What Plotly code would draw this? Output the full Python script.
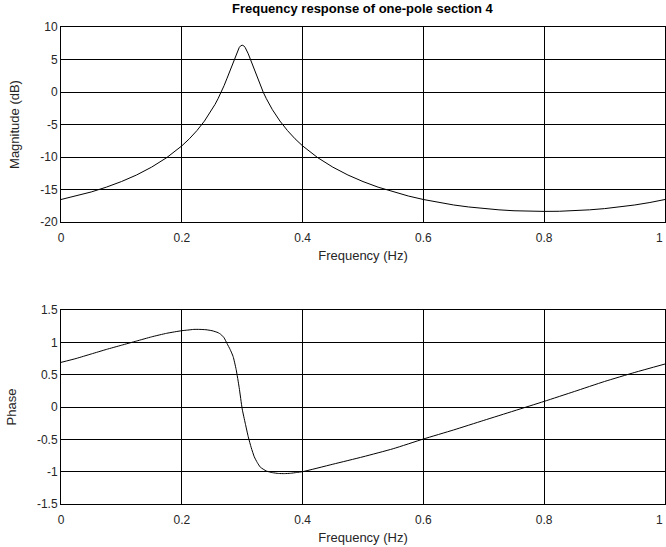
import plotly.graph_objects as go
from plotly.subplots import make_subplots

# Magnitude response (dB)
mag_freq = [0, 0.025, 0.05, 0.075, 0.1, 0.125, 0.15, 0.175, 0.2, 0.2125, 0.225, 0.2375, 0.25,
            0.255, 0.26, 0.265, 0.27, 0.275, 0.28, 0.285, 0.29, 0.295, 0.2975, 0.3, 0.3025,
            0.305, 0.31, 0.315, 0.32, 0.325, 0.33, 0.335, 0.34, 0.345, 0.35, 0.3625, 0.375,
            0.3875, 0.4, 0.425, 0.45, 0.475, 0.5, 0.525, 0.55, 0.575, 0.6, 0.625, 0.65,
            0.675, 0.7, 0.725, 0.75, 0.775, 0.8, 0.825, 0.85, 0.875, 0.9, 0.925, 0.95,
            0.975, 1.0]
mag_db = [-16.54, -16.0, -15.38, -14.64, -13.78, -12.77, -11.56, -10.10, -8.29, -7.20, -5.94, -4.47, -2.72,
          -1.91, -1.03, -0.07, 0.98, 2.13, 3.36, 4.65, 5.88, 6.83, 7.11, 7.2, 7.11,
          6.83, 5.88, 4.65, 3.36, 2.13, 0.98, -0.07, -1.03, -1.91, -2.72, -4.47, -5.94,
          -7.20, -8.29, -10.10, -11.56, -12.77, -13.78, -14.64, -15.38, -16.0, -16.54, -17.0, -17.38,
          -17.69, -17.94, -18.13, -18.27, -18.35, -18.37, -18.35, -18.27, -18.13, -17.94, -17.69, -17.38,
          -17.0, -16.54]

# Phase response
ph_freq = [0, 0.025, 0.05, 0.075, 0.1, 0.125, 0.15, 0.175, 0.2, 0.21, 0.22, 0.23, 0.24, 0.25,
           0.26, 0.265, 0.27, 0.275, 0.28, 0.285, 0.29, 0.295, 0.3, 0.305, 0.31, 0.315, 0.32,
           0.325, 0.33, 0.34, 0.35, 0.36, 0.37, 0.38, 0.39, 0.4, 0.45, 0.5, 0.55, 0.6, 0.65,
           0.7, 0.75, 0.8, 0.85, 0.9, 0.95, 1.0]
ph_val = [0.69, 0.75, 0.82, 0.89, 0.955, 1.02, 1.085, 1.14, 1.18, 1.19, 1.2, 1.2, 1.195, 1.18,
          1.15, 1.12, 1.07, 0.98, 0.89, 0.78, 0.58, 0.3, -0.03, -0.25, -0.46, -0.63, -0.77,
          -0.86, -0.93, -0.99, -1.015, -1.028, -1.03, -1.025, -1.013, -1.0, -0.885, -0.77, -0.645, -0.495, -0.355,
          -0.207, -0.06, 0.087, 0.24, 0.395, 0.535, 0.665]

x_ticks = [0, 0.2, 0.4, 0.6, 0.8, 1]
x_labels = ["0", "0.2", "0.4", "0.6", "0.8", "1"]
mag_ticks = [10, 5, 0, -5, -10, -15, -20]
mag_labels = ["10", "5", "0", "-5", "-10", "-15", "-20"]
ph_ticks = [1.5, 1, 0.5, 0, -0.5, -1, -1.5]
ph_labels = ["1.5", "1", "0.5", "0", "-0.5", "-1", "-1.5"]

title_text = "Frequency response of one-pole section 4"
xlabel = "Frequency (Hz)"
ylabel_mag = "Magnitude (dB)"
ylabel_ph = "Phase"

FONT = "Liberation Sans"
TXT = "#262626"

fig = make_subplots(rows=2, cols=1)
fig.add_trace(go.Scatter(x=mag_freq, y=mag_db, mode="lines",
                         line=dict(color="black", width=1), showlegend=False), row=1, col=1)
fig.add_trace(go.Scatter(x=ph_freq, y=ph_val, mode="lines",
                         line=dict(color="black", width=1, shape="spline", smoothing=0.5),
                         showlegend=False), row=2, col=1)

axis_common = dict(showline=True, mirror=True, linecolor="black", linewidth=1,
                   showgrid=True, gridcolor="black", gridwidth=1, zeroline=False,
                   ticks="", automargin=False, ticklabeloverflow="allow",
                   tickfont=dict(family=FONT, size=12, color=TXT))
title_font = dict(family=FONT, size=13, color=TXT)

# the last x tick label sits on the page edge: it is drawn right-aligned as an annotation
shown_x_labels = x_labels[:-1] + [""]
fig.update_xaxes(range=[0, 1], tickvals=x_ticks, ticktext=shown_x_labels, ticklabelstandoff=5,
                 title=dict(text=xlabel, font=title_font, standoff=6), **axis_common)
fig.update_yaxes(range=[-20, 10], tickvals=mag_ticks, ticktext=mag_labels,
                 title=dict(text=ylabel_mag, font=title_font, standoff=17),
                 row=1, col=1, **axis_common)
fig.update_yaxes(range=[-1.5, 1.5], tickvals=ph_ticks, ticktext=ph_labels,
                 title=dict(text=ylabel_ph, font=title_font, standoff=17),
                 row=2, col=1, **axis_common)

annotations = [dict(text="<b>" + title_text + "</b>", xref="paper", yref="paper",
                    x=0.5, y=1 + 19 / 477, xanchor="center", yanchor="middle",
                    showarrow=False, font=dict(family=FONT, size=13, color="black"))]
for xr, yr in (("x", "y domain"), ("x2", "y2 domain")):
    annotations.append(dict(text=x_labels[-1], xref=xr, yref=yr, x=x_ticks[-1], y=0,
                            xanchor="right", yanchor="top", yshift=-7, showarrow=False,
                            font=dict(family=FONT, size=12, color=TXT)))

fig.update_layout(
    width=666, height=547, autosize=False,
    margin=dict(l=61, r=1, t=27, b=43),
    paper_bgcolor="white", plot_bgcolor="white",
    xaxis=dict(domain=[0, 1]), xaxis2=dict(domain=[0, 1]),
    yaxis=dict(domain=[0.5912, 1]), yaxis2=dict(domain=[0, 0.4067]),
    annotations=annotations,
)

fig.write_html("out.html", config={"displayModeBar": False},
               post_script="document.body.style.margin='0';document.body.style.padding='0';")
